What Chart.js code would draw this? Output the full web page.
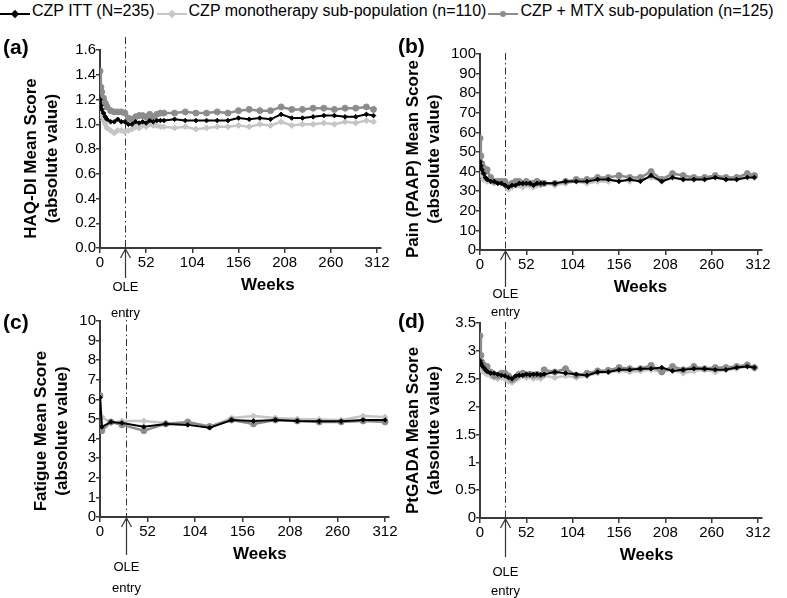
<!DOCTYPE html>
<html>
<head>
<meta charset="utf-8">
<script src="https://cdn.jsdelivr.net/npm/chart.js@4.4.1/dist/chart.umd.min.js"></script>
<style>
  body { margin: 0; width: 787px; height: 598px; position: relative; overflow: hidden; background: #fff; color: #000; font-family: 'Liberation Sans', Arial, sans-serif; }
  canvas { position: absolute; }
  .tag { position: absolute; font-weight: bold; font-size: 21px; line-height: 21px; }
  #legend { position: absolute; left: 0; top: 1px; display: flex; font-size: 16px; line-height: 20px; white-space: nowrap; }
  .item { display: flex; margin-right: 2px; }
  .key { position: relative; display: inline-block; width: 30px; height: 20px; margin-right: 2px; }
  .key .ln { position: absolute; left: 0; right: 0; top: 12px; height: 2px; }
  .key .mk { position: absolute; left: 12px; top: 10px; width: 6px; height: 6px; }
  .mk.rectRot { transform: rotate(45deg); }
  .mk.circle { border-radius: 50%; }
</style>
</head>
<body>
<div id="legend"></div>
<canvas id="haq" width="400" height="300" style="left:0;top:30px"></canvas>
<canvas id="pain" width="387" height="300" style="left:400px;top:30px"></canvas>
<canvas id="fatigue" width="400" height="298" style="left:0;top:300px"></canvas>
<canvas id="ptgada" width="387" height="298" style="left:400px;top:300px"></canvas>
<div class="tag" style="left:3px;top:36px">(a)</div>
<div class="tag" style="left:398px;top:35px">(b)</div>
<div class="tag" style="left:3px;top:311px">(c)</div>
<div class="tag" style="left:398px;top:310px">(d)</div>
<script>
Chart.defaults.font.family = '"Liberation Sans", Arial, sans-serif';
Chart.defaults.color = '#000';

const OLE_WEEK = 28;
const seriesNames = ['CZP ITT (N=235)', 'CZP monotherapy sub-population (n=110)', 'CZP + MTX sub-population (n=125)'];
const seriesColors = ['#000000', '#c6c6c6', '#8c8c8c'];
const seriesPoints = ['rectRot', 'rectRot', 'circle'];
const xTicks = [0, 52, 104, 156, 208, 260, 312];

// visit weeks (HAQ-DI, pain, PtGADA)
const weeks = [0, 1, 2, 4, 6, 8, 12, 16, 20, 24, 28, 32, 36, 40, 44, 48, 52, 56, 60, 64, 68, 72,
  84, 96, 108, 120, 132, 144, 156, 168, 180, 192, 204, 216, 228, 240, 252, 264, 276, 288, 300, 308];
// fatigue was collected less often
const fatigueWeeks = [0, 2, 12, 24, 48, 72, 96, 120, 144, 168, 192, 216, 240, 264, 288, 312];

const haqItt = [1.20, 1.15, 1.12, 1.09, 1.06, 1.04, 1.02, 1.02, 1.04, 1.02, 1.02, 1.00, 1.00, 1.02, 1.01, 1.02, 1.01, 1.03, 1.02, 1.03, 1.03, 1.03,
  1.04, 1.03, 1.03, 1.03, 1.03, 1.03, 1.05, 1.04, 1.05, 1.04, 1.08, 1.05, 1.05, 1.06, 1.07, 1.07, 1.06, 1.06, 1.08, 1.07];
const haqMono = [1.17, 1.08, 1.06, 1.03, 1.00, 0.97, 0.95, 0.93, 0.95, 0.95, 0.94, 0.95, 0.96, 0.98, 0.97, 0.99, 0.98, 1.00, 0.99, 0.99, 0.98, 0.98,
  0.97, 0.98, 0.96, 0.97, 0.98, 0.98, 0.99, 0.98, 1.00, 0.99, 1.02, 0.99, 1.00, 1.00, 1.01, 1.00, 1.02, 1.01, 1.03, 1.02];
const haqMtx = [1.43, 1.30, 1.26, 1.21, 1.17, 1.14, 1.11, 1.10, 1.10, 1.10, 1.09, 1.05, 1.04, 1.06, 1.07, 1.07, 1.06, 1.08, 1.06, 1.08, 1.09, 1.09,
  1.09, 1.10, 1.09, 1.09, 1.10, 1.09, 1.11, 1.12, 1.11, 1.11, 1.14, 1.12, 1.12, 1.13, 1.13, 1.12, 1.13, 1.13, 1.14, 1.12];

const painItt = [45, 43, 41, 39, 37, 36, 35, 35, 34, 34, 33, 32, 33, 33, 34, 34, 34, 34, 33, 34, 34, 34,
  34, 35, 35, 35, 36, 36, 35, 36, 35, 38, 35, 37, 36, 36, 36, 37, 36, 36, 37, 37];
const painMono = [41, 40, 38, 36, 36, 35, 35, 34, 35, 34, 33, 31, 32, 33, 33, 32, 33, 33, 32, 33, 33, 34,
  33, 34, 35, 34, 35, 35, 36, 35, 36, 37, 35, 37, 36, 36, 36, 37, 36, 36, 38, 37];
const painMtx = [57, 48, 44, 42, 40, 41, 37, 35, 35, 35, 35, 33, 34, 35, 35, 34, 35, 34, 34, 35, 34, 34,
  34, 35, 36, 36, 37, 37, 38, 37, 37, 40, 36, 39, 38, 37, 37, 38, 37, 37, 39, 38];

const fatigueItt = [6.1, 4.6, 4.85, 4.8, 4.6, 4.75, 4.7, 4.55, 4.95, 4.9, 4.95, 4.9, 4.88, 4.88, 4.95, 4.95];
const fatigueMono = [4.8, 5.1, 4.8, 4.9, 4.9, 4.8, 4.75, 4.6, 5.05, 5.15, 5.05, 5.0, 4.98, 4.95, 5.15, 5.1];
const fatigueMtx = [6.2, 4.4, 4.85, 4.7, 4.4, 4.75, 4.85, 4.62, 4.95, 4.75, 4.95, 4.9, 4.85, 4.85, 4.9, 4.85];

const ptgadaItt = [2.82, 2.78, 2.74, 2.70, 2.66, 2.63, 2.60, 2.60, 2.58, 2.56, 2.55, 2.52, 2.50, 2.55, 2.56, 2.56, 2.58, 2.57, 2.58, 2.58, 2.57, 2.58,
  2.62, 2.60, 2.58, 2.56, 2.62, 2.62, 2.66, 2.66, 2.68, 2.68, 2.70, 2.64, 2.66, 2.68, 2.68, 2.66, 2.66, 2.70, 2.72, 2.70];
const ptgadaMono = [2.72, 2.68, 2.65, 2.62, 2.60, 2.58, 2.55, 2.52, 2.50, 2.52, 2.50, 2.45, 2.43, 2.48, 2.52, 2.55, 2.52, 2.54, 2.50, 2.52, 2.50, 2.55,
  2.52, 2.55, 2.52, 2.55, 2.60, 2.62, 2.64, 2.62, 2.64, 2.66, 2.62, 2.66, 2.60, 2.64, 2.66, 2.62, 2.66, 2.68, 2.72, 2.68];
const ptgadaMtx = [3.27, 2.92, 2.80, 2.75, 2.70, 2.72, 2.62, 2.55, 2.55, 2.60, 2.60, 2.55, 2.48, 2.52, 2.58, 2.60, 2.57, 2.58, 2.56, 2.58, 2.56, 2.66,
  2.62, 2.68, 2.56, 2.60, 2.64, 2.65, 2.70, 2.68, 2.68, 2.74, 2.62, 2.72, 2.66, 2.72, 2.68, 2.70, 2.70, 2.72, 2.75, 2.70];

const panels = [
  { id: 'haq', x: weeks, series: [haqItt, haqMono, haqMtx], yMax: 1.6, yStep: 0.2, digits: 1,
    yTitle: ['HAQ-DI Mean Score', '(absolute value)'], yWidth: 100,
    pad: { left: 0, top: 20, right: 19.4, bottom: 35 },
    text: { titleX: 31.7, titleDy: 9.5, weeksAt: 189, lineTop: -13, arrow: 30, ole: 39, entry: 65 } },
  { id: 'pain', x: weeks, series: [painItt, painMono, painMtx], yMax: 100, yStep: 10, digits: null,
    yTitle: ['Pain (PAAP) Mean Score', '(absolute value)'], yWidth: 80,
    pad: { left: 0, top: 24, right: 25.4, bottom: 33 },
    text: { titleX: 13.8, titleDy: 7, weeksAt: 180, lineTop: -1, arrow: 37, ole: 44, entry: 62 } },
  { id: 'fatigue', x: fatigueWeeks, series: [fatigueItt, fatigueMono, fatigueMtx], yMax: 10, yStep: 1, digits: null,
    yTitle: ['Fatigue Mean Score', '(absolute value)'], yWidth: 100,
    pad: { left: 0, top: 21, right: 11.3, bottom: 34 },
    text: { titleX: 41.7, titleDy: 12, weeksAt: 175, lineTop: -11, arrow: 38, ole: 50, entry: 71 } },
  { id: 'ptgada', x: weeks, series: [ptgadaItt, ptgadaMono, ptgadaMtx], yMax: 3.5, yStep: 0.5, digits: null,
    yTitle: ['PtGADA Mean Score', '(absolute value)'], yWidth: 80,
    pad: { left: 0, top: 23, right: 25.4, bottom: 33 },
    text: { titleX: 13.5, titleDy: 10, weeksAt: 187, lineTop: -1, arrow: 39, ole: 54, entry: 73 } }
];

// OLE marker, axis titles
const panelText = {
  id: 'panelText',
  beforeDatasetsDraw(chart, args, o) {
    const { ctx, chartArea: a, scales: { x } } = chart;
    const px = Math.round(x.getPixelForValue(OLE_WEEK)) + 0.5;
    ctx.save();
    ctx.strokeStyle = '#333';
    ctx.lineWidth = 1;
    ctx.setLineDash([7, 3, 1.5, 3]);
    ctx.beginPath();
    ctx.moveTo(px, a.top + o.lineTop);
    ctx.lineTo(px, a.bottom);
    ctx.stroke();
    ctx.restore();
  },
  afterDraw(chart, args, o) {
    const { ctx, chartArea: a, scales: { x } } = chart;
    const px = Math.round(x.getPixelForValue(OLE_WEEK)) + 0.5;
    ctx.save();
    ctx.strokeStyle = '#333';
    ctx.lineWidth = 1.2;
    ctx.beginPath();
    ctx.moveTo(px, a.bottom + o.arrow);
    ctx.lineTo(px, a.bottom + 1);
    ctx.moveTo(px - 5, a.bottom + 10);
    ctx.lineTo(px, a.bottom + 1);
    ctx.lineTo(px + 5, a.bottom + 10);
    ctx.stroke();

    ctx.fillStyle = '#000';
    ctx.textAlign = 'center';
    ctx.textBaseline = 'middle';
    ctx.font = '13px "Liberation Sans", Arial, sans-serif';
    ctx.fillText('OLE', px, a.bottom + o.ole);
    ctx.fillText('entry', px, a.bottom + o.entry);

    ctx.font = 'bold 17px "Liberation Sans", Arial, sans-serif';
    ctx.fillText('Weeks', x.getPixelForValue(o.weeksAt), a.bottom + 37);

    ctx.translate(o.titleX, (a.top + a.bottom) / 2 + o.titleDy);
    ctx.rotate(-Math.PI / 2);
    o.lines.forEach((line, i) => ctx.fillText(line, 0, i * 21));
    ctx.restore();
  }
};

buildLegend();
panels.forEach(drawPanel);

function buildLegend() {
  const legend = document.getElementById('legend');
  for (let i = 0; i < seriesNames.length; i++) {
    legend.innerHTML += `<span class="item"><span class="key"><span class="ln" style="background:${seriesColors[i]}"></span>` +
      `<span class="mk ${seriesPoints[i]}" style="background:${seriesColors[i]}"></span></span>${seriesNames[i]}</span>`;
  }
}

function makeDatasets(xs, series) {
  const order = [0, 2, 1];
  return series.map((values, i) => ({
    label: seriesNames[i],
    data: values.map((v, j) => ({ x: xs[j], y: v })),
    borderColor: seriesColors[i],
    backgroundColor: seriesColors[i],
    pointBackgroundColor: seriesColors[i],
    pointBorderColor: seriesColors[i],
    pointStyle: seriesPoints[i],
    pointRadius: i === 0 ? 2.3 : 3,
    pointBorderWidth: 1,
    borderWidth: i === 0 ? 2 : 2.5,
    tension: 0,
    order: order[i]
  }));
}

function drawPanel(p) {
  const axisColor = '#3a3a3a';
  new Chart(document.getElementById(p.id), {
    type: 'line',
    data: { datasets: makeDatasets(p.x, p.series) },
    options: {
      responsive: false,
      animation: false,
      layout: { padding: p.pad },
      plugins: {
        legend: { display: false },
        tooltip: { enabled: false },
        panelText: Object.assign({ lines: p.yTitle }, p.text)
      },
      scales: {
        x: {
          type: 'linear',
          bounds: 'data',
          min: 0,
          max: 316,
          afterBuildTicks: s => { s.ticks = xTicks.map(v => ({ value: v })); },
          ticks: { font: { size: 15 }, padding: 1, maxRotation: 0, autoSkip: false },
          grid: { drawOnChartArea: false, color: axisColor, tickLength: 5, lineWidth: 1.5 },
          border: { color: axisColor, width: 2 },
          afterFit: s => { s.height = 47; }
        },
        y: {
          min: 0,
          max: p.yMax,
          ticks: {
            stepSize: p.yStep,
            autoSkip: false,
            font: { size: 15 },
            padding: 0,
            callback: v => p.digits === null ? String(Math.round(v * 10) / 10) : v.toFixed(p.digits)
          },
          grid: { drawOnChartArea: false, color: axisColor, tickLength: 4, lineWidth: 1.5 },
          border: { color: axisColor, width: 2 },
          afterFit: s => { s.width = p.yWidth; }
        }
      }
    },
    plugins: [panelText]
  });
}
</script>
</body>
</html>
